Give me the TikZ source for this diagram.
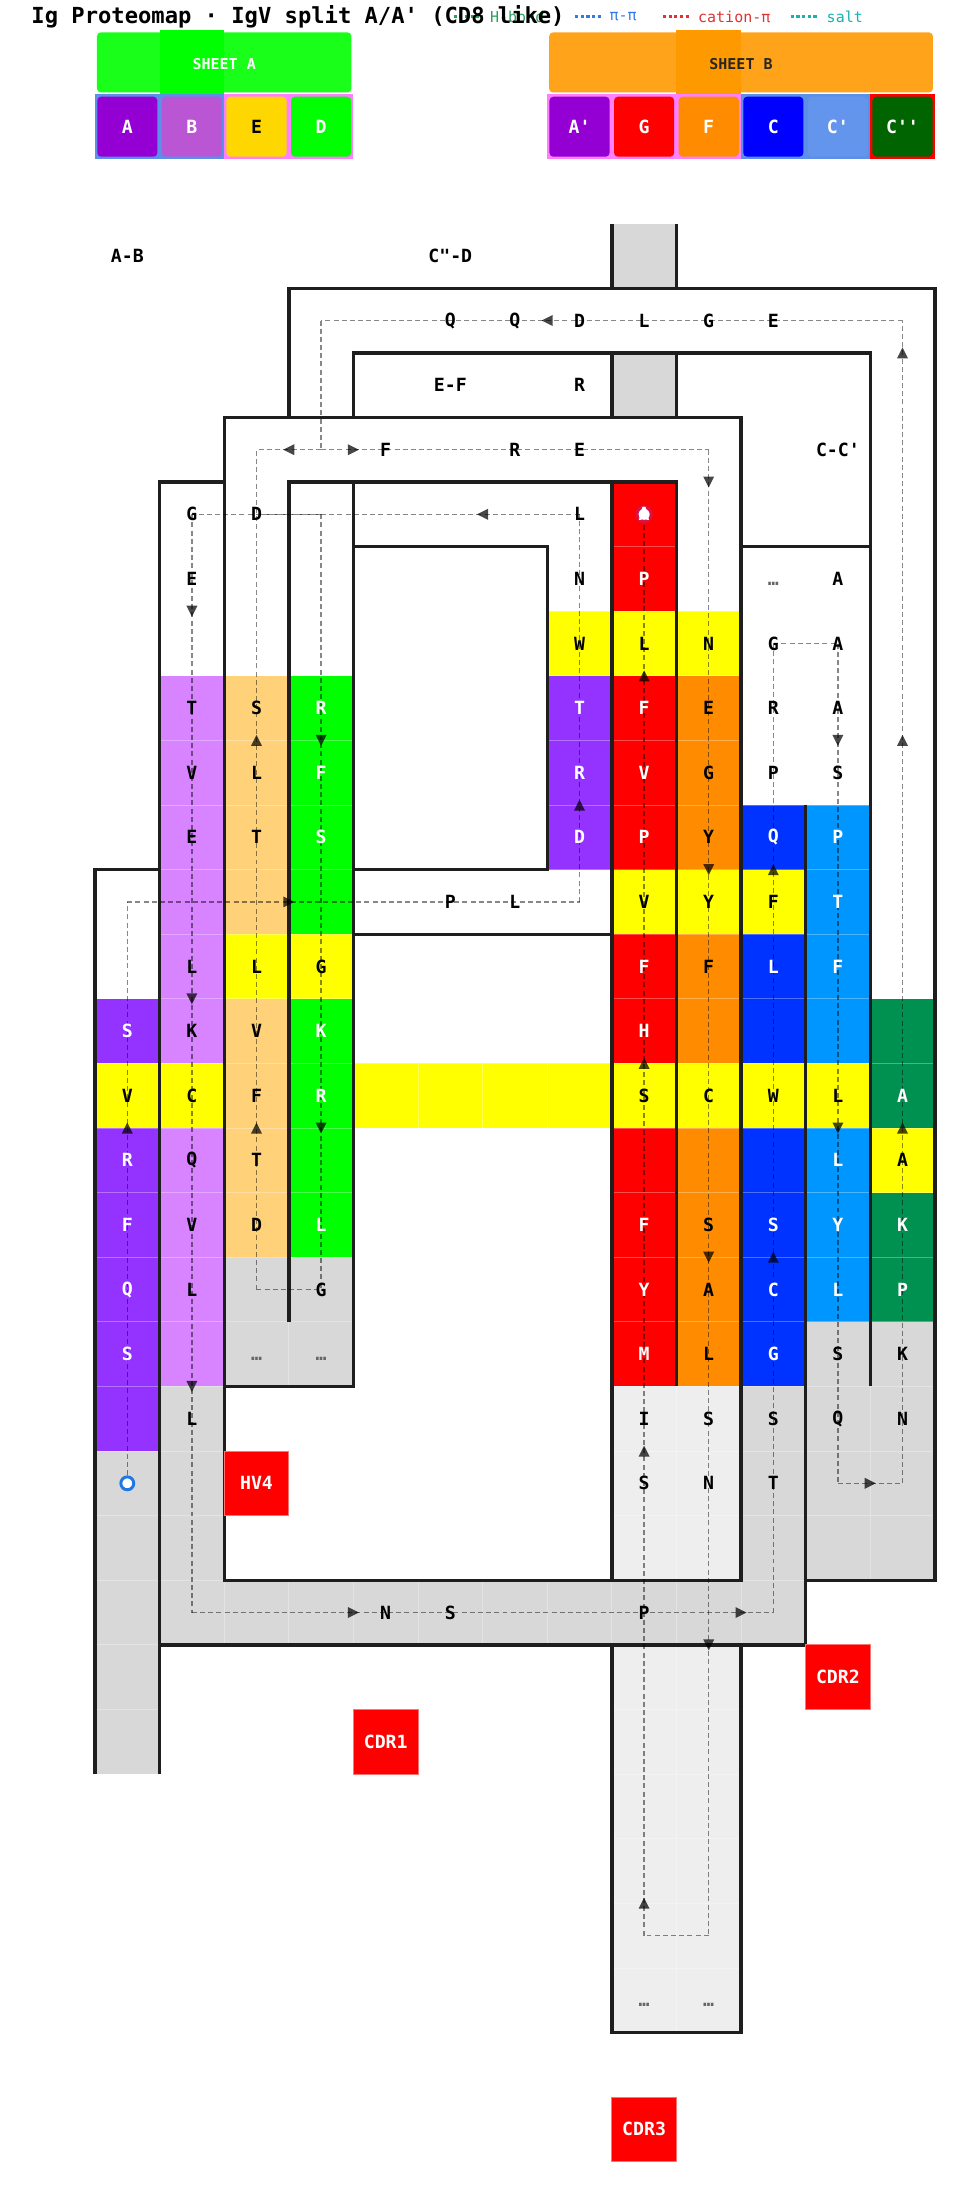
\documentclass[tikz,border=0pt]{standalone}
\usepackage{fontspec}
\setmonofont{DejaVu Sans Mono}
\usetikzlibrary{decorations.markings}

\definecolor{wallcol}{HTML}{1E1E1E}
\definecolor{purp}{HTML}{9433FF}
\definecolor{lilac}{HTML}{D883FF}
\definecolor{peach}{HTML}{FFD27A}
\definecolor{limeg}{HTML}{00FF00}
\definecolor{yel}{HTML}{FFFF00}
\definecolor{redc}{HTML}{FF0000}
\definecolor{orng}{HTML}{FF8C00}
\definecolor{blu}{HTML}{0033FF}
\definecolor{skyb}{HTML}{0096FF}
\definecolor{dgreen}{HTML}{009150}
\definecolor{grayA}{HTML}{D8D8D8}
\definecolor{grayB}{HTML}{EEEEEE}
\definecolor{hA}{HTML}{9400D3}
\definecolor{hB}{HTML}{BA55D3}
\definecolor{hE}{HTML}{FFD700}
\definecolor{hC}{HTML}{0000FF}
\definecolor{hCp}{HTML}{6495ED}
\definecolor{hCpp}{HTML}{006400}
\definecolor{bgblue}{HTML}{5B8FE8}
\definecolor{bgpink}{HTML}{FF80FF}
\definecolor{sheetA}{HTML}{1AFF1A}
\definecolor{sheetB}{HTML}{FFA31A}
\definecolor{sheetBo}{HTML}{FF9900}
\definecolor{lgreen}{HTML}{2E9E5B}
\definecolor{lblue}{HTML}{2F7DE1}
\definecolor{lred}{HTML}{E03232}
\definecolor{lteal}{HTML}{17B2B2}
\definecolor{nblue}{HTML}{1E78E6}
\definecolor{ccrim}{HTML}{D7144A}

\tikzset{
  wall/.style={draw=wallcol, line width=1.5pt, line join=miter},
  cellgrid/.style={draw=white, draw opacity=0.3, line width=0.3pt},
  res/.style={font=\ttfamily\bfseries\fontsize{8pt}{9pt}\selectfont, inner sep=0pt},
  resw/.style={res, text=white},
  dots/.style={res, text=black!60, yshift=-0.07cm},
  tag/.style={res, fill=redc, draw=red!55!white, line width=0.4pt, text=white, minimum size=1cm},
  strand/.style={draw=black, draw opacity=0.47, line width=0.6pt, dash pattern=on 2.2pt off 1.4pt},
  mk/.style={postaction={decorate, decoration={markings, mark=at position #1 with {\fill[black, opacity=0.72] (0.085,0) -- (-0.085,0.085) -- (-0.085,-0.085) -- cycle;}}}},
  blockbox/.style={resw, rounded corners=0.06cm, minimum size=0.93cm},
  sheetlabel/.style={font=\ttfamily\bfseries\fontsize{6.6pt}{7.5pt}\selectfont, inner sep=0pt},
  legswatch/.style={line width=1.3pt, dash pattern=on 1.4pt off 1.1pt},
  legtext/.style={font=\ttfamily\fontsize{6.6pt}{7.5pt}\selectfont, inner sep=0pt, anchor=west}
}

\begin{document}
\begin{tikzpicture}

\useasboundingbox (-1.4706,3.4613) rectangle (13.483,-30.4857);
\fill [white] (-1.4706,3.4613) rectangle (13.483,-30.4857);

\fill [grayA] (8,0) rectangle (9,-1);
\fill [grayA] (8,-2) rectangle (9,-3);
\fill [grayA] (0,-19) rectangle (1,-24);
\fill [grayA] (1,-18) rectangle (2,-22);
\fill [grayA] (1,-21) rectangle (11,-22);
\fill [grayA] (10,-18) rectangle (11,-22);
\fill [grayA] (2,-16) rectangle (4,-18);
\fill [grayA] (11,-17) rectangle (13,-21);
\fill [grayB] (8,-18) rectangle (10,-21);
\fill [grayB] (8,-22) rectangle (10,-28);

\fill [purp] (0,-12) rectangle (1,-13);
\fill [purp] (0,-14) rectangle (1,-19);
\fill [lilac] (1,-7) rectangle (2,-13);
\fill [lilac] (1,-14) rectangle (2,-18);
\fill [peach] (2,-7) rectangle (3,-11);
\fill [peach] (2,-12) rectangle (3,-16);
\fill [limeg] (3,-7) rectangle (4,-11);
\fill [limeg] (3,-12) rectangle (4,-16);
\fill [yel] (2,-11) rectangle (4,-12);
\fill [yel] (0,-13) rectangle (2,-14);
\fill [yel] (4,-13) rectangle (12,-14);
\fill [yel] (7,-6) rectangle (10,-7);
\fill [yel] (8,-10) rectangle (11,-11);
\fill [yel] (12,-14) rectangle (13,-15);
\fill [purp] (7,-7) rectangle (8,-10);
\fill [redc] (8,-4) rectangle (9,-6);
\fill [redc] (8,-7) rectangle (9,-10);
\fill [redc] (8,-11) rectangle (9,-13);
\fill [redc] (8,-14) rectangle (9,-18);
\fill [orng] (9,-7) rectangle (10,-10);
\fill [orng] (9,-11) rectangle (10,-13);
\fill [orng] (9,-14) rectangle (10,-18);
\fill [blu] (10,-9) rectangle (11,-10);
\fill [blu] (10,-11) rectangle (11,-13);
\fill [blu] (10,-14) rectangle (11,-18);
\fill [skyb] (11,-9) rectangle (12,-13);
\fill [skyb] (11,-14) rectangle (12,-17);
\fill [dgreen] (12,-12) rectangle (13,-14);
\fill [dgreen] (12,-15) rectangle (13,-17);

\draw [cellgrid] (0,0) grid (13,-28);

\draw [wall] (8,0) -- (8,-1);
\draw [wall] (9,0) -- (9,-1);
\draw [wall] (3,-3) -- (3,-1) -- (13,-1) -- (13,-21) -- (11,-21);
\draw [wall] (4,-3) -- (4,-2) -- (12,-2) -- (12,-18);
\draw [wall] (8,-2) -- (8,-3);
\draw [wall] (9,-2) -- (9,-3);
\draw [wall] (2,-3) rectangle (10,-21);
\draw [wall] (10,-5) -- (12,-5);
\draw [wall] (1,-24) -- (1,-4) -- (2,-4);
\draw [wall] (0,-24) -- (0,-10) -- (1,-10);
\draw [wall] (3,-17) -- (3,-4) -- (9,-4) -- (9,-18);
\draw [wall] (4,-4) -- (4,-18) -- (2,-18);
\draw [wall] (4,-5) -- (7,-5) -- (7,-10) -- (4,-10);
\draw [wall] (4,-11) -- (8,-11);
\draw [wall] (8,-4) -- (8,-21);
\draw [wall] (8,-22) -- (8,-28) -- (10,-28) -- (10,-22);
\draw [wall] (11,-9) -- (11,-22) -- (1,-22);

\node [tag] (hv4) at (2.5,-19.5) {HV4};
\node [tag] (cdr1) at (4.5,-23.5) {CDR1};
\node [tag] (cdr2) at (11.5,-22.5) {CDR2};
\node [tag] (cdr3) at (8.5,-29.5) {CDR3};

\coordinate (nterm) at (0.5,-19.5);
\coordinate (cterm) at (8.5,-4.5);
\coordinate (fork) at (3.5,-3.5);
\coordinate (a1) at (0.5,-10.5);
\coordinate (a2) at (7.5,-10.5);
\coordinate (a3) at (7.5,-4.5);
\coordinate (a4) at (1.5,-4.5);
\coordinate (a5) at (1.5,-21.5);
\coordinate (a6) at (10.5,-21.5);
\coordinate (a7) at (10.5,-6.5);
\coordinate (a8) at (11.5,-6.5);
\coordinate (a9) at (11.5,-19.5);
\coordinate (a10) at (12.5,-19.5);
\coordinate (a11) at (12.5,-1.5);
\coordinate (a12) at (3.5,-1.5);
\coordinate (b1) at (9.5,-3.5);
\coordinate (b2) at (9.5,-26.5);
\coordinate (b3) at (8.5,-26.5);
\coordinate (c1) at (2.5,-3.5);
\coordinate (c2) at (2.5,-16.5);
\coordinate (c3) at (3.5,-16.5);
\coordinate (c4) at (3.5,-4.5);
\coordinate (c5) at (2.5,-4.5);

\draw [strand, mk=5.5cm] (nterm) -- (a1);
\draw [strand, mk=2.5cm] (a1) -- (a2);
\draw [strand, mk=1.5cm] (a2) -- (a3);
\draw [strand, mk=1.5cm] (a3) -- (a4);
\draw [strand, mk=1.5cm, mk=7.5cm, mk=13.5cm] (a4) -- (a5);
\draw [strand, mk=2.5cm, mk=8.5cm] (a5) -- (a6);
\draw [strand, mk=5.5cm, mk=11.5cm] (a6) -- (a7);
\draw [strand] (a7) -- (a8);
\draw [strand, mk=1.5cm, mk=7.5cm] (a8) -- (a9);
\draw [strand, mk=0.5cm] (a9) -- (a10);
\draw [strand, mk=5.5cm, mk=11.5cm, mk=17.5cm] (a10) -- (a11);
\draw [strand, mk=5.5cm] (a11) -- (a12);
\draw [strand] (a12) -- (fork);
\draw [strand, mk=0.5cm] (fork) -- (b1);
\draw [strand, mk=0.5cm, mk=6.5cm, mk=12.5cm, mk=18.5cm] (b1) -- (b2);
\draw [strand] (b2) -- (b3);
\draw [strand, mk=0.5cm, mk=7.5cm, mk=13.5cm, mk=19.5cm] (b3) -- (cterm);
\draw [strand, mk=0.5cm] (fork) -- (c1);
\draw [strand, mk=2.5cm, mk=8.5cm] (c2) -- (c1);
\draw [strand] (c2) -- (c3);
\draw [strand, mk=3.5cm, mk=9.5cm] (c4) -- (c3);
\draw [strand] (c4) -- (c5);

\node [circle, draw=nblue, fill=white, line width=1.3pt, minimum size=0.2cm, inner sep=0pt] (nmark) at (nterm) {};
\node [circle, draw=ccrim, fill=white, line width=1.3pt, minimum size=0.22cm, inner sep=0pt] (cmark) at (cterm) {};

\node [res] (ab) at (0.5,-0.5) {A-B};
\node [res] (cd) at (5.5,-0.5) {C"-D};
\node [res] (ef) at (5.5,-2.5) {E-F};
\node [res] (cc) at (11.5,-3.5) {C-C'};

\node [res] (r1c5) at (5.5,-1.5) {Q};
\node [res] (r1c6) at (6.5,-1.5) {Q};
\node [res] (r1c7) at (7.5,-1.5) {D};
\node [res] (r1c8) at (8.5,-1.5) {L};
\node [res] (r1c9) at (9.5,-1.5) {G};
\node [res] (r1c10) at (10.5,-1.5) {E};
\node [res] (r2c7) at (7.5,-2.5) {R};
\node [res] (r3c4) at (4.5,-3.5) {F};
\node [res] (r3c6) at (6.5,-3.5) {R};
\node [res] (r3c7) at (7.5,-3.5) {E};

\node [res] (r4c1) at (1.5,-4.5) {G};
\node [res] (r4c2) at (2.5,-4.5) {D};
\node [res] (r4c7) at (7.5,-4.5) {L};
\node [resw] (r4c8) at (8.5,-4.5) {A};
\node [res] (r5c1) at (1.5,-5.5) {E};
\node [res] (r5c7) at (7.5,-5.5) {N};
\node [resw] (r5c8) at (8.5,-5.5) {P};
\node [dots] (r5c10) at (10.5,-5.5) {…};
\node [res] (r5c11) at (11.5,-5.5) {A};
\node [res] (r6c7) at (7.5,-6.5) {W};
\node [res] (r6c8) at (8.5,-6.5) {L};
\node [res] (r6c9) at (9.5,-6.5) {N};
\node [res] (r6c10) at (10.5,-6.5) {G};
\node [res] (r6c11) at (11.5,-6.5) {A};

\node [res] (r7c1) at (1.5,-7.5) {T};
\node [res] (r7c2) at (2.5,-7.5) {S};
\node [resw] (r7c3) at (3.5,-7.5) {R};
\node [resw] (r7c7) at (7.5,-7.5) {T};
\node [resw] (r7c8) at (8.5,-7.5) {F};
\node [res] (r7c9) at (9.5,-7.5) {E};
\node [res] (r7c10) at (10.5,-7.5) {R};
\node [res] (r7c11) at (11.5,-7.5) {A};
\node [res] (r8c1) at (1.5,-8.5) {V};
\node [res] (r8c2) at (2.5,-8.5) {L};
\node [resw] (r8c3) at (3.5,-8.5) {F};
\node [resw] (r8c7) at (7.5,-8.5) {R};
\node [resw] (r8c8) at (8.5,-8.5) {V};
\node [res] (r8c9) at (9.5,-8.5) {G};
\node [res] (r8c10) at (10.5,-8.5) {P};
\node [res] (r8c11) at (11.5,-8.5) {S};
\node [res] (r9c1) at (1.5,-9.5) {E};
\node [res] (r9c2) at (2.5,-9.5) {T};
\node [resw] (r9c3) at (3.5,-9.5) {S};
\node [resw] (r9c7) at (7.5,-9.5) {D};
\node [resw] (r9c8) at (8.5,-9.5) {P};
\node [res] (r9c9) at (9.5,-9.5) {Y};
\node [resw] (r9c10) at (10.5,-9.5) {Q};
\node [resw] (r9c11) at (11.5,-9.5) {P};

\node [res] (r10c5) at (5.5,-10.5) {P};
\node [res] (r10c6) at (6.5,-10.5) {L};
\node [res] (r10c8) at (8.5,-10.5) {V};
\node [res] (r10c9) at (9.5,-10.5) {Y};
\node [res] (r10c10) at (10.5,-10.5) {F};
\node [resw] (r10c11) at (11.5,-10.5) {T};
\node [res] (r11c1) at (1.5,-11.5) {L};
\node [res] (r11c2) at (2.5,-11.5) {L};
\node [res] (r11c3) at (3.5,-11.5) {G};
\node [resw] (r11c8) at (8.5,-11.5) {F};
\node [res] (r11c9) at (9.5,-11.5) {F};
\node [resw] (r11c10) at (10.5,-11.5) {L};
\node [resw] (r11c11) at (11.5,-11.5) {F};
\node [resw] (r12c0) at (0.5,-12.5) {S};
\node [res] (r12c1) at (1.5,-12.5) {K};
\node [res] (r12c2) at (2.5,-12.5) {V};
\node [resw] (r12c3) at (3.5,-12.5) {K};
\node [resw] (r12c8) at (8.5,-12.5) {H};

\node [res] (r13c0) at (0.5,-13.5) {V};
\node [res] (r13c1) at (1.5,-13.5) {C};
\node [res] (r13c2) at (2.5,-13.5) {F};
\node [resw] (r13c3) at (3.5,-13.5) {R};
\node [res] (r13c8) at (8.5,-13.5) {S};
\node [res] (r13c9) at (9.5,-13.5) {C};
\node [res] (r13c10) at (10.5,-13.5) {W};
\node [res] (r13c11) at (11.5,-13.5) {L};
\node [resw] (r13c12) at (12.5,-13.5) {A};
\node [resw] (r14c0) at (0.5,-14.5) {R};
\node [res] (r14c1) at (1.5,-14.5) {Q};
\node [res] (r14c2) at (2.5,-14.5) {T};
\node [resw] (r14c11) at (11.5,-14.5) {L};
\node [res] (r14c12) at (12.5,-14.5) {A};
\node [resw] (r15c0) at (0.5,-15.5) {F};
\node [res] (r15c1) at (1.5,-15.5) {V};
\node [res] (r15c2) at (2.5,-15.5) {D};
\node [resw] (r15c3) at (3.5,-15.5) {L};
\node [resw] (r15c8) at (8.5,-15.5) {F};
\node [res] (r15c9) at (9.5,-15.5) {S};
\node [resw] (r15c10) at (10.5,-15.5) {S};
\node [resw] (r15c11) at (11.5,-15.5) {Y};
\node [resw] (r15c12) at (12.5,-15.5) {K};

\node [resw] (r16c0) at (0.5,-16.5) {Q};
\node [res] (r16c1) at (1.5,-16.5) {L};
\node [res] (r16c3) at (3.5,-16.5) {G};
\node [resw] (r16c8) at (8.5,-16.5) {Y};
\node [res] (r16c9) at (9.5,-16.5) {A};
\node [resw] (r16c10) at (10.5,-16.5) {C};
\node [resw] (r16c11) at (11.5,-16.5) {L};
\node [resw] (r16c12) at (12.5,-16.5) {P};
\node [resw] (r17c0) at (0.5,-17.5) {S};
\node [dots] (r17c2) at (2.5,-17.5) {…};
\node [dots] (r17c3) at (3.5,-17.5) {…};
\node [resw] (r17c8) at (8.5,-17.5) {M};
\node [res] (r17c9) at (9.5,-17.5) {L};
\node [resw] (r17c10) at (10.5,-17.5) {G};
\node [res] (r17c11) at (11.5,-17.5) {S};
\node [res] (r17c12) at (12.5,-17.5) {K};
\node [res] (r18c1) at (1.5,-18.5) {L};
\node [res] (r18c8) at (8.5,-18.5) {I};
\node [res] (r18c9) at (9.5,-18.5) {S};
\node [res] (r18c10) at (10.5,-18.5) {S};
\node [res] (r18c11) at (11.5,-18.5) {Q};
\node [res] (r18c12) at (12.5,-18.5) {N};
\node [res] (r19c8) at (8.5,-19.5) {S};
\node [res] (r19c9) at (9.5,-19.5) {N};
\node [res] (r19c10) at (10.5,-19.5) {T};
\node [res] (r21c4) at (4.5,-21.5) {N};
\node [res] (r21c5) at (5.5,-21.5) {S};
\node [res] (r21c8) at (8.5,-21.5) {P};
\node [dots] (r27c8) at (8.5,-27.5) {…};
\node [dots] (r27c9) at (9.5,-27.5) {…};

\fill [sheetA, rounded corners=0.06cm] (0.03,2.03) rectangle (3.97,2.96);
\fill [limeg] (1,1.99) rectangle (2,3);
\node [sheetlabel, text=white] (sheeta) at (2,2.47) {SHEET A};
\fill [bgblue] (0,1) rectangle (2,2);
\fill [bgpink] (2,1) rectangle (4,2);
\node [blockbox, fill=hA] (blka) at (0.5,1.5) {A};
\node [blockbox, fill=hB] (blkb) at (1.5,1.5) {B};
\node [blockbox, fill=hE, text=black] (blke) at (2.5,1.5) {E};
\node [blockbox, fill=limeg] (blkd) at (3.5,1.5) {D};

\fill [sheetB, rounded corners=0.06cm] (7.03,2.03) rectangle (12.97,2.96);
\fill [sheetBo] (9,1.99) rectangle (10,3);
\node [sheetlabel, text=black!85] (sheetb) at (10,2.47) {SHEET B};
\fill [bgpink] (7,1) rectangle (10,2);
\fill [bgblue] (10,1) rectangle (12,2);
\fill [redc] (12,1) rectangle (13,2);
\node [blockbox, fill=hA] (blkap) at (7.5,1.5) {A'};
\node [blockbox, fill=redc] (blkg) at (8.5,1.5) {G};
\node [blockbox, fill=orng] (blkf) at (9.5,1.5) {F};
\node [blockbox, fill=hC] (blkc) at (10.5,1.5) {C};
\node [blockbox, fill=hCp] (blkcp) at (11.5,1.5) {C'};
\node [blockbox, fill=hCpp] (blkcpp) at (12.5,1.5) {C''};

\draw [legswatch, lgreen] (5.55,3.2) -- (6.0,3.2);
\node [legtext, text=lgreen] (lhb) at (6.11,3.2) {H-bond};
\draw [legswatch, lblue] (7.43,3.2) -- (7.84,3.2);
\node [legtext, text=lblue] (lpp) at (7.96,3.2) {π-π};
\draw [legswatch, lred] (8.79,3.2) -- (9.2,3.2);
\node [legtext, text=lred] (lcp) at (9.33,3.2) {cation-π};
\draw [legswatch, lteal] (10.77,3.2) -- (11.18,3.2);
\node [legtext, text=lteal] (lsb) at (11.32,3.2) {salt};

\node [anchor=west, inner sep=0pt, font=\ttfamily\bfseries\fontsize{9.75pt}{11pt}\selectfont] (title) at (-0.99,3.2) {Ig Proteomap · IgV split A/A' (CD8 like)};

\end{tikzpicture}
\end{document}
